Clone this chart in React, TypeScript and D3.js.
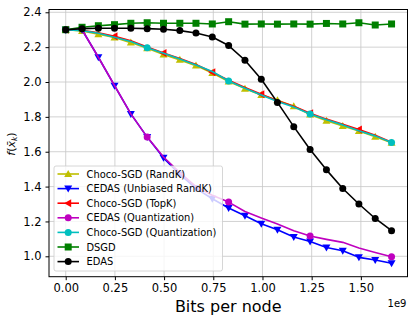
import { useRef, useEffect } from "react";
import * as d3 from "d3";

// bits per node (x 1e9), shared grid
const bits = [0, 0.083, 0.166, 0.248, 0.331, 0.414, 0.497, 0.58, 0.662, 0.745, 0.828,
  0.911, 0.994, 1.076, 1.159, 1.242, 1.325, 1.408, 1.49, 1.573, 1.656];

const chocoRandK = [2.3, 2.293, 2.274, 2.255, 2.226, 2.193, 2.158, 2.127, 2.094, 2.052, 2.003,
  1.962, 1.925, 1.895, 1.861, 1.814, 1.778, 1.748, 1.719, 1.686, 1.652];
const cedasRandK = [2.3, 2.3, 2.142, 1.979, 1.817, 1.684, 1.565, 1.47, 1.39, 1.33, 1.277,
  1.233, 1.187, 1.152, 1.111, 1.085, 1.051, 1.032, 0.994, 0.979, 0.96];
const chocoTopK = [2.3, 2.296, 2.282, 2.262, 2.236, 2.201, 2.166, 2.135, 2.101, 2.056, 2.01,
  1.968, 1.93, 1.893, 1.861, 1.821, 1.787, 1.758, 1.727, 1.694, 1.655];
const cedasQuant = [2.3, 2.3, 2.142, 1.98, 1.817, 1.684, 1.57, 1.48, 1.4, 1.35, 1.311,
  1.257, 1.22, 1.185, 1.147, 1.116, 1.097, 1.08, 1.048, 1.022, 0.998];
const chocoQuant = [2.3, 2.295, 2.28, 2.257, 2.232, 2.197, 2.165, 2.132, 2.098, 2.06, 2.006,
  1.964, 1.926, 1.888, 1.856, 1.817, 1.783, 1.754, 1.721, 1.691, 1.653];
const dsgd = [2.3, 2.314, 2.323, 2.329, 2.337, 2.34, 2.337, 2.337, 2.337, 2.333, 2.346,
  2.332, 2.333, 2.332, 2.333, 2.332, 2.336, 2.333, 2.34, 2.327, 2.333];
const edas = [2.3, 2.306, 2.308, 2.308, 2.308, 2.306, 2.303, 2.295, 2.281, 2.258, 2.209,
  2.125, 2.016, 1.883, 1.744, 1.613, 1.496, 1.389, 1.3, 1.217, 1.147];

const names = ["Choco-SGD (RandK)", "CEDAS (Unbiased RandK)", "Choco-SGD (TopK)",
  "CEDAS (Quantization)", "Choco-SGD (Quantization)", "DSGD", "EDAS"];
const xTicks = [0, 0.25, 0.5, 0.75, 1.0, 1.25, 1.5];
const yTicks = [1.0, 1.2, 1.4, 1.6, 1.8, 2.0, 2.2, 2.4];

const series = [
  { name: names[0], values: chocoRandK, color: "#bfbf00", marker: "up", every: 1 },
  { name: names[1], values: cedasRandK, color: "#0000ff", marker: "down", every: 1 },
  { name: names[2], values: chocoTopK, color: "#ff0000", marker: "left", every: 3 },
  { name: names[3], values: cedasQuant, color: "#bf00bf", marker: "circle", every: 5 },
  { name: names[4], values: chocoQuant, color: "#00bfbf", marker: "circle", every: 5 },
  { name: names[5], values: dsgd, color: "#008000", marker: "square", every: 1 },
  { name: names[6], values: edas, color: "#000000", marker: "circle", every: 1 },
];

function markerPath(kind: string, s: number) {
  const h = s / 2;
  if (kind === "up") return `M0,${-h - 0.5}L${h + 0.5},${h - 0.5}L${-h - 0.5},${h - 0.5}Z`;
  if (kind === "down") return `M0,${h + 0.5}L${h + 0.5},${-h + 0.5}L${-h - 0.5},${-h + 0.5}Z`;
  if (kind === "left") return `M${-h - 0.5},0L${h - 0.5},${-h - 0.5}L${h - 0.5},${h + 0.5}Z`;
  if (kind === "square") return `M${-h},${-h}H${h}V${h}H${-h}Z`;
  return d3.symbol(d3.symbolCircle, Math.PI * h * h)() as string;
}

export default function App() {
  const ref = useRef<SVGSVGElement>(null);

  useEffect(() => {
    const width = 415;
    const height = 324;
    const left = 49, right = 407.5, top = 9.5, bottom = 276.7;
    const svg = d3.select(ref.current);
    svg.selectAll("*").remove();
    svg.attr("viewBox", `0 0 ${width} ${height}`);
    svg.append("rect").attr("width", width).attr("height", height).attr("fill", "white");

    const x = d3.scaleLinear().domain([-0.0849, 1.737]).range([left, right]);
    const y = d3.scaleLinear().domain([0.883, 2.416]).range([bottom, top]);
    const font = "DejaVu Sans, sans-serif";

    // grid
    const grid = svg.append("g").attr("stroke", "#b0b0b0").attr("stroke-width", 0.8).attr("opacity", 0.7);
    xTicks.forEach(t => grid.append("line").attr("x1", x(t)).attr("x2", x(t)).attr("y1", top).attr("y2", bottom));
    yTicks.forEach(t => grid.append("line").attr("x1", left).attr("x2", right).attr("y1", y(t)).attr("y2", y(t)));

    // series
    const line = d3.line<number>().x((_, i) => x(bits[i])).y(d => y(d));
    series.forEach(s => {
      svg.append("path").datum(s.values).attr("d", line).attr("fill", "none")
        .attr("stroke", s.color).attr("stroke-width", 1.6).attr("stroke-linejoin", "round");
      const pts = s.values.map((v, i) => ({ v, i })).filter(p => p.i % s.every === 0);
      svg.append("g").selectAll("path").data(pts).join("path")
        .attr("d", markerPath(s.marker, 7))
        .attr("transform", p => `translate(${x(bits[p.i])},${y(p.v)})`)
        .attr("fill", s.color);
    });

    // spines
    svg.append("rect").attr("x", left).attr("y", top).attr("width", right - left).attr("height", bottom - top)
      .attr("fill", "none").attr("stroke", "black").attr("stroke-width", 1);

    // axes
    const xAxis = svg.append("g").attr("transform", `translate(0,${bottom})`)
      .call(d3.axisBottom(x).tickValues(xTicks).tickFormat(d3.format(".2f")).tickSize(3.5).tickPadding(4));
    xAxis.select(".domain").remove();
    xAxis.selectAll("text").attr("font-family", font).attr("font-size", 11.5).attr("fill", "black");

    const yAxis = svg.append("g").attr("transform", `translate(${left},0)`)
      .call(d3.axisLeft(y).tickValues(yTicks).tickFormat(d3.format(".1f")).tickSize(3.5).tickPadding(4));
    yAxis.select(".domain").remove();
    yAxis.selectAll("text").attr("font-family", font).attr("font-size", 11.5).attr("fill", "black");

    svg.append("text").attr("x", 406.5).attr("y", 307).attr("text-anchor", "end")
      .attr("font-family", font).attr("font-size", 10).text("1e9");

    svg.append("text").attr("x", (left + right) / 2).attr("y", 312).attr("text-anchor", "middle")
      .attr("font-family", font).attr("font-size", 16).text("Bits per node");

    const yl = svg.append("text").attr("transform", "translate(15,144) rotate(-90)")
      .attr("text-anchor", "middle").attr("font-family", font).attr("font-size", 11);
    yl.append("tspan").attr("font-style", "italic").text("f");
    yl.append("tspan").text("(");
    yl.append("tspan").attr("font-style", "italic").text("x\u0304");
    yl.append("tspan").attr("font-style", "italic").attr("font-size", 7.5).attr("dy", 2).text("k");
    yl.append("tspan").attr("dy", -2).text(")");

    // legend
    const lg = svg.append("g");
    lg.append("rect").attr("x", 54).attr("y", 166).attr("width", 168.5).attr("height", 105)
      .attr("rx", 2).attr("fill", "white").attr("fill-opacity", 0.8).attr("stroke", "#cccccc").attr("stroke-width", 0.8);
    series.forEach((s, i) => {
      const cy = 174 + i * 14.6;
      lg.append("line").attr("x1", 57.5).attr("x2", 79).attr("y1", cy).attr("y2", cy)
        .attr("stroke", s.color).attr("stroke-width", 1.6);
      lg.append("path").attr("d", markerPath(s.marker, 7)).attr("transform", `translate(68.2,${cy})`).attr("fill", s.color);
      lg.append("text").attr("x", 86.5).attr("y", cy + 3.5).attr("font-family", font).attr("font-size", 9.9)
        .text(s.name);
    });
  }, []);

  return <svg ref={ref} width={415} height={324} style={{ position: "absolute", left: 0, top: 0 }} />;
}
